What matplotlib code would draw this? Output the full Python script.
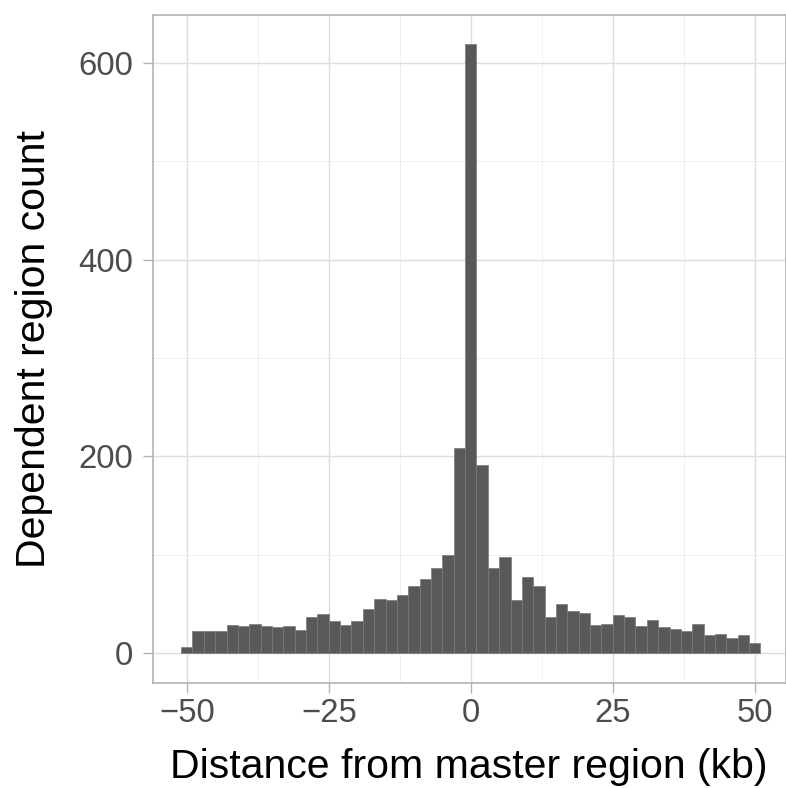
import matplotlib.pyplot as plt
import numpy as np

plt.rcParams['font.family'] = ['Liberation Sans', 'DejaVu Sans']

# histogram: 2 kb bins centred on even kb from -50 to 50
bin_centers = np.arange(-50, 51, 2)
counts = [6, 23, 23, 23, 29, 28, 30, 28, 27, 28,
          24, 37, 40, 33, 29, 33, 45, 55, 54, 59,
          68, 75, 87, 100, 209, 619, 191, 87, 98, 54,
          78, 68, 37, 50, 43, 41, 29, 30, 39, 37,
          28, 34, 27, 25, 23, 30, 19, 20, 16, 19, 10]

x_ticks = [-50, -25, 0, 25, 50]
x_ticklabels = ['\u221250', '\u221225', '0', '25', '50']
y_ticks = [0, 200, 400, 600]

fig = plt.figure(figsize=(7.86, 7.88), dpi=100)
fig.patch.set_facecolor('white')
ax = fig.add_axes([0.195, 0.1336, 0.805, 0.8473])

ax.bar(bin_centers, counts, width=2, color='#595959', edgecolor='#7a7a7a',
       linewidth=0.5, zorder=3)

ax.set_xlim(-55.9, 55.5)
ax.set_ylim(-29.9, 648.4)

# grid like ggplot theme_light
ax.set_xticks(x_ticks)
ax.set_xticklabels(x_ticklabels)
ax.set_yticks(y_ticks)
ax.set_xticks([-37.5, -12.5, 12.5, 37.5], minor=True)
ax.set_yticks([100, 300, 500], minor=True)
ax.grid(which='major', color='#dedede', linewidth=1.0, zorder=0)
ax.grid(which='minor', color='#ededed', linewidth=0.6, zorder=0)
ax.tick_params(which='minor', length=0)
ax.tick_params(which='major', length=7.5, width=1, color='#b3b3b3',
               labelsize=23.7, labelcolor='#4d4d4d')
ax.tick_params(axis='x', pad=3.6)
ax.tick_params(axis='y', pad=7)

for s in ax.spines.values():
    s.set_color('#b3b3b3')
    s.set_linewidth(1.2)

ax.set_xlabel('Distance from master region (kb)', fontsize=29.5, color='black',
              va='baseline')
ax.xaxis.set_label_coords(0.499, -0.1427)
ax.set_ylabel('Dependent region count', fontsize=29.5, color='black',
              va='baseline')
ax.yaxis.set_label_coords(-0.1712, 0.5)

plt.savefig('out.png', dpi=100, facecolor='white')
